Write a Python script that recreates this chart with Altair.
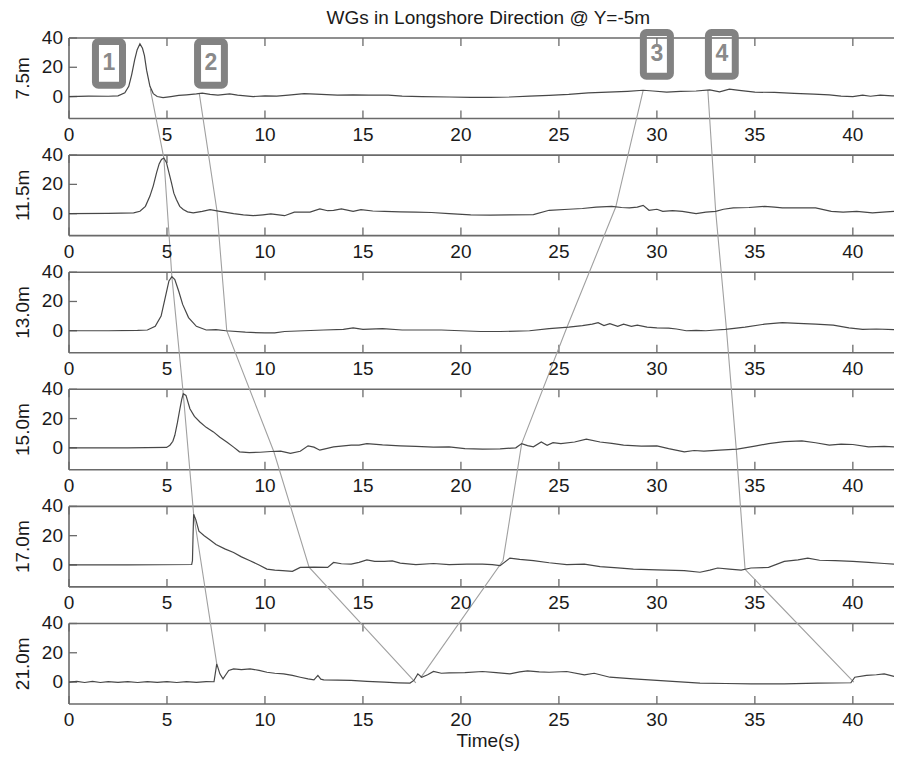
import altair as alt
import pandas as pd

# ---------------- data ----------------
PANEL_NAMES = ["7.5m", "11.5m", "13.0m", "15.0m", "17.0m", "21.0m"]
TITLE = "WGs in Longshore Direction @ Y=-5m"
XLABEL = "Time(s)"
X_TICKS = [0, 5, 10, 15, 20, 25, 30, 35, 40]
Y_TICKS = [0, 20, 40]

T1 = [0, 1, 2, 2.5, 2.85, 3.05, 3.2, 3.35, 3.48, 3.62, 3.75, 3.85, 3.96, 4.13, 4.3, 4.5, 4.8, 5.2, 5.6, 6.0,
      6.5, 6.8, 7.2, 7.6, 8.2, 8.6, 9.4, 10, 10.6, 11.2, 12, 12.6, 13.7, 14.5, 15.3, 16.3, 17, 18, 19.4, 20.5,
      21.5, 22.5, 23.5, 24.5, 25.5, 26.5, 27.5, 28.5, 29.3, 29.8, 30.5, 31.2, 32, 32.7, 33.2, 33.7, 34.2, 35, 36, 37,
      38, 38.8, 39.4, 40, 40.5, 40.9, 41.4, 42, 42.1]
V1 = [0, 0.3, 0.2, 0.5, 2.5, 7, 15, 25, 32, 36, 33, 28, 18, 7, 2, 0, -0.7, 0, 0.8, 1.2,
      1.8, 2.3, 1.5, 1.0, 1.8, 1.0, 0, 0.5, 0.3, 1.0, 2, 1.6, 1.0, 1.2, 1.0, 1.0, 0.3, 0, -0.3, -0.5,
      -0.5, -0.3, 0.3, 0.8, 1.5, 2.5, 3, 3.6, 4.3, 3.8, 3, 3.5, 3.8, 4.5, 3.2, 5, 4.2, 3, 2.8, 2.2,
      1.6, 1.2, 0.3, 0, 1, 0.2, 1, 0.5, 0.5]

T2 = [0, 2, 3.3, 3.62, 3.9, 4.13, 4.3, 4.47, 4.6, 4.72, 4.84, 4.97, 5.1, 5.23, 5.35, 5.48, 5.65, 5.83, 6.05, 6.34,
      6.8, 7.2, 7.7, 8.4, 8.9, 9.4, 9.9, 10.3, 10.7, 11, 11.5, 12.3, 12.8, 13.2, 13.5, 13.9, 14.5, 14.9, 15.5, 16.1,
      16.9, 17.7, 18.5, 19.4, 20.5, 21.5, 22.5, 23.7, 24.5, 25.5, 26.2, 26.9, 27.7, 28.2, 28.6, 29, 29.3, 29.6, 30, 30.3,
      30.8, 31.3, 32, 32.5, 33, 33.4, 33.9, 34.7, 35.5, 36, 36.4, 37.2, 38.1, 38.9, 39.5, 40.2, 41, 41.7, 42.1]
V2 = [0, 0.2, 0.5, 1.6, 5, 12, 19, 28, 34, 37, 38, 35, 28, 21, 14, 9.7, 5, 2.8, 1.2, 0.5,
      1.5, 2.8, 1.6, 0, -0.8, -1.4, -0.8, -0.2, -0.8, -1.4, 1, 1, 3.2, 2.0, 2.3, 3.2, 1.6, 2.8, 1.8, 1.6,
      1.2, 1.0, 0.8, 0, -0.8, -1, -0.8, -0.7, 2.3, 3, 3.5, 4.4, 5, 4.2, 3.9, 4.5, 5.7, 2.3, 3, 1.6,
      2, 1.6, 0, 1, 1.6, 3, 3.9, 4.2, 5, 4.5, 3.9, 4, 3.9, 1.6, 1.0, 1.5, 0.5, 1.2, 1.6]

T3 = [0, 2, 3.5, 4.0, 4.4, 4.7, 4.95, 5.1, 5.25, 5.4, 5.6, 5.8, 6.1, 6.5, 7.0, 7.5, 8.0, 9, 10, 10.5,
      11, 12, 13, 14, 14.5, 15, 16, 17, 18, 19, 20, 21, 22, 23.5, 24.5, 25.5, 26.2, 26.7, 27, 27.3,
      27.6, 28, 28.3, 28.7, 29, 29.5, 30, 30.6, 31, 31.5, 32, 32.5, 33, 33.5, 34.5, 35.5, 36.4, 37.2, 38.1, 39,
      39.8, 40.5, 41.2, 42.1]
V3 = [0, 0, 0.2, 0.5, 3, 10, 25, 34, 37, 35, 27, 18, 9, 3, 0.5, 0.8, 0, -1, -1.5, -1.5,
      -0.5, 0, 0.5, 1, 2, 1, 1.5, 0.5, 0.5, 0.5, 0, -0.5, -0.5, 0, 1.5, 2.5, 3.5, 4.5, 5.5, 3.5,
      4.8, 3, 4.5, 3, 3.8, 2.5, 2, 1.8, 1.2, 0, 0.2, 0, 0.5, 1, 2.5, 4.5, 5.5, 5, 4.5, 3.8,
      2, 1, 1.2, 0.8]

T4 = [0, 3, 4.98, 5.15, 5.3, 5.4, 5.53, 5.66, 5.75, 5.83, 5.97, 6.17, 6.4, 6.68, 7.0, 7.37, 7.7, 8.05, 8.4, 8.7,
      9.2, 9.75, 10.3, 10.8, 11.3, 11.8, 12.2, 12.5, 12.8, 13.5, 14.4, 14.8, 15.2, 16.0, 16.9, 17.7, 18.6, 19.4, 20.2, 21.1,
      22.0, 22.8, 23.1, 23.4, 23.7, 24.1, 24.4, 24.7, 25.1, 25.8, 26.4, 27.1, 27.7, 28.3, 29.2, 30.0, 30.6, 31.4, 31.9, 32.4,
      33.2, 34.1, 35.0, 35.7, 36.5, 37.4, 38.1, 38.8, 39.4, 40.0, 40.8, 41.6, 42.1]
V4 = [0, 0, 0.3, 1.8, 4.5, 8.6, 17, 26.7, 33, 37, 35.8, 26.7, 21.5, 17.7, 14, 10.9, 7.2, 4, 0.5, -2.7,
      -3.2, -3.0, -2.5, -2.3, -3.8, -2.3, 1.4, 0.5, -1.6, 0.7, 1.8, 1.8, 2.9, 2.0, 1.4, 1.0, 0.5, 0.7, -0.5, -0.9,
      -0.7, 0, 2.9, 1.5, 0.7, 4, 1.8, 3.5, 2.9, 4, 5.9, 4, 3, 1.8, 1.2, 1.4, -0.5, -2.7, -1.8, -2.3,
      -1.5, -0.9, 1.2, 2.9, 4.2, 4.8, 3.5, 1.8, 2.5, 2.3, 0.7, 1.0, 0.7]

T5 = [0, 3, 6.26, 6.3, 6.33, 6.36, 6.47, 6.63, 6.9, 7.2, 7.5, 7.95, 8.4, 8.8, 9.24, 9.7, 10.1, 10.5, 10.9, 11.4,
      11.8, 12.5, 13.2, 13.5, 13.9, 14.4, 14.8, 15.2, 15.6, 16.1, 16.5, 16.9, 17.7, 18.6, 19.4, 20.3, 21.1, 21.6, 22.0, 22.5,
      23.0, 23.7, 24.5, 25.4, 26.3, 27.1, 28.0, 28.8, 30.0, 31.4, 32.2, 32.7, 33.1, 33.7, 34.3, 34.8, 35.7, 36.5, 37.2, 37.7,
      38.3, 39.1, 40.0, 40.8, 41.6, 42.1]
V5 = [0, 0, 0.3, 2.9, 20, 34.6, 31, 23, 20, 17, 14, 11, 8.5, 5.5, 2.9, 0, -2.8, -3.5, -3.9, -4.4,
      -1.7, -1.5, -1.7, 1.7, 0.8, 0.6, 1.8, 3.5, 2.5, 2.4, 2.8, 1.3, 0.2, 1, 0.2, 0.5, 0.6, 0.2, -0.5, 4.7,
      3.8, 2.9, 1.5, 0.2, 0.5, -1.2, -2, -2.8, -3.4, -3.9, -5, -3.5, -2.1, -2.8, -3.5, -2.1, -1.7, 2.4, 3.5, 4.7,
      3.2, 2.9, 2.5, 1.7, 1.0, 0.6]

T6 = [0, 0.4, 0.8, 1.2, 1.6, 2.0, 2.5, 3.0, 3.5, 4.0, 4.5, 5.0, 5.5, 6.0, 6.5, 7.0, 7.4, 7.54, 7.7, 7.86,
      8.0, 8.15, 8.4, 8.8, 9.24, 9.7, 10.1, 10.5, 10.95, 11.4, 11.8, 12.2, 12.5, 12.7, 12.85, 13.0, 13.7, 14.4, 15.2, 16.1,
      16.8, 17.4, 17.6, 17.8, 18.0, 18.3, 18.6, 19.0, 19.4, 20.2, 21.1, 21.8, 22.5, 23.0, 23.4, 24.0, 24.5, 25.4, 26.3, 26.8,
      27.6, 28.8, 30.0, 31.4, 32.2, 33.5, 34.8, 36.5, 38.2, 39.9, 40.1, 40.7, 41.2, 41.6, 42.1]
V6 = [0, 0.4, -0.3, 0.4, -0.3, 0.3, -0.2, 0.3, -0.3, 0.3, -0.2, 0.3, -0.3, 0.3, -0.2, 0.3, 0.2, 12.4, 5.6, 2.2,
      5, 7.9, 9, 8.5, 9, 8, 6.7, 6, 5.6, 4.5, 3.3, 2.2, 1.5, 4.5, 2, 1.5, 1.3, 1.1, 0.5, -0.1,
      -0.5, -0.7, 1.1, 5.6, 3.3, 5, 7.2, 6, 6.3, 6.5, 7.2, 6.5, 5.6, 7, 7.6, 7.0, 6.7, 7.2, 4.9, 6,
      3.3, 2.2, 1.1, -0.1, -0.7, -1.0, -1.2, -1.2, -0.7, -0.5, 3.3, 4.5, 5, 5.6, 3.8]

SERIES_T = [T1, T2, T3, T4, T5, T6]
SERIES_V = [V1, V2, V3, V4, V5, V6]

# connector lines: one (time, value) pair per panel, top to bottom
LINK1_T = [4.15, 4.84, 5.25, 5.83, 6.36, 7.54]
LINK1_V = [5, 38, 37, 37, 34.6, 12.4]
LINK2_T = [6.65, 7.55, 8.05, 10.45, 12.25, 17.7]
LINK2_V = [2, 2, 0, -2.5, -1.5, -0.5]
LINK3_T = [29.3, 27.9, 25.4, 23.1, 22.15, 17.95]
LINK3_V = [4.3, 4.5, 2, 2.9, 3, 3]
LINK4_T = [32.6, 33.0, 33.55, 34.05, 34.5, 40.05]
LINK4_V = [4.5, 1.6, 1, -0.9, -3, 0]
LINKS = [(LINK1_T, LINK1_V), (LINK2_T, LINK2_V), (LINK3_T, LINK3_V), (LINK4_T, LINK4_V)]

# numbered boxes: label, x0, x1, y0, y1 (in the top panel's units)
BOX_LABELS = ["1", "2", "3", "4"]
BOX_X0 = [1.35, 6.56, 29.31, 32.63]
BOX_X1 = [2.73, 7.93, 30.69, 34.0]
BOX_Y0 = [7.75, 7.75, 13.9, 13.9]
BOX_Y1 = [37.6, 37.6, 43.7, 43.7]

# ---------------- layout constants ----------------
YMIN, YMAX = -15, 40
PITCH = 80              # data units between panel baselines
NP = len(PANEL_NAMES)
XMAX = 42.1
W, H = 825, 666
PX_X = W / XMAX
PX_Y = H / (YMAX - (YMIN - PITCH * (NP - 1)))
TICK_Y = 8 / PX_Y
TICK_X = 8 / PX_X
FONT = "Liberation Sans"
FS = 19
TEXT_COLOR = "#1a1a1a"

x_scale = alt.Scale(domain=[0, XMAX], nice=False, zero=False)
y_scale = alt.Scale(domain=[YMIN - PITCH * (NP - 1), YMAX], nice=False, zero=False)
X = lambda f="t": alt.X(f"{f}:Q", scale=x_scale, axis=None)
Y = lambda f="yy": alt.Y(f"{f}:Q", scale=y_scale, axis=None)

# series
rows = []
for k, (ts, vs) in enumerate(zip(SERIES_T, SERIES_V)):
    for t, v in zip(ts, vs):
        rows.append({"panel": k, "t": t, "yy": v - PITCH * k})
series_df = pd.DataFrame(rows)

link_rows = []
for li, (ts, vs) in enumerate(LINKS):
    for k, (t, v) in enumerate(zip(ts, vs)):
        link_rows.append({"link": li, "seq": k, "t": t, "yy": v - PITCH * k})
link_df = pd.DataFrame(link_rows)

# frames, ticks and labels of every panel
frame_rows, xtick_rows, ytick_rows, xlab_rows, ylab_rows, name_rows = [], [], [], [], [], []
for k in range(NP):
    top = YMAX - PITCH * k
    bot = YMIN - PITCH * k
    frame_rows += [
        {"t": 0, "t2": XMAX, "yy": top, "yy2": top},
        {"t": 0, "t2": XMAX, "yy": bot, "yy2": bot},
        {"t": 0, "t2": 0, "yy": bot, "yy2": top},
    ]
    for xt in X_TICKS:
        xtick_rows.append({"t": xt, "yy": bot, "yy2": bot + TICK_Y})
        xtick_rows.append({"t": xt, "yy": top, "yy2": top - TICK_Y})
        xlab_rows.append({"t": xt, "yy": bot - 22 / PX_Y, "label": str(xt)})
    for yt in Y_TICKS:
        ytick_rows.append({"t": 0, "t2": TICK_X, "yy": yt - PITCH * k})
        ylab_rows.append({"t": 0, "yy": yt - PITCH * k, "label": str(yt)})
    name_rows.append({"t": -46 / PX_X, "yy": (top + bot) / 2, "label": PANEL_NAMES[k]})

frame_df = pd.DataFrame(frame_rows)
xtick_df = pd.DataFrame(xtick_rows)
ytick_df = pd.DataFrame(ytick_rows)
xlab_df = pd.DataFrame(xlab_rows)
ylab_df = pd.DataFrame(ylab_rows)
name_df = pd.DataFrame(name_rows)

box_df = pd.DataFrame({"label": BOX_LABELS, "t": BOX_X0, "t2": BOX_X1, "yy": BOX_Y0, "yy2": BOX_Y1})
box_df["tc"] = (box_df["t"] + box_df["t2"]) / 2
box_df["yc"] = (box_df["yy"] + box_df["yy2"]) / 2

title_df = pd.DataFrame({"t": [XMAX / 2 + 0.35], "yy": [YMAX + 14 / PX_Y], "label": [TITLE]})
xtitle_df = pd.DataFrame({"t": [XMAX / 2 + 0.35], "yy": [YMIN - PITCH * (NP - 1) - 43 / PX_Y], "label": [XLABEL]})

FRAME_COLOR = "#6a6a6a"

frames = alt.Chart(frame_df).mark_rule(color=FRAME_COLOR, strokeWidth=1.6).encode(
    x=X(), x2="t2:Q", y=Y(), y2="yy2:Q")
xticks = alt.Chart(xtick_df).mark_rule(color=FRAME_COLOR, strokeWidth=1.3).encode(
    x=X(), y=Y(), y2="yy2:Q")
yticks = alt.Chart(ytick_df).mark_rule(color=FRAME_COLOR, strokeWidth=1.3).encode(
    x=X(), x2="t2:Q", y=Y())
xlabels = alt.Chart(xlab_df).mark_text(font=FONT, fontSize=FS, color=TEXT_COLOR, align="center",
                                       baseline="alphabetic").encode(x=X(), y=Y(), text="label:N")
ylabels = alt.Chart(ylab_df).mark_text(font=FONT, fontSize=FS, color=TEXT_COLOR, align="right",
                                       baseline="middle", dx=-6).encode(x=X(), y=Y(), text="label:N")
names = alt.Chart(name_df).mark_text(font=FONT, fontSize=FS, color=TEXT_COLOR, align="center",
                                     baseline="middle", angle=270).encode(x=X(), y=Y(), text="label:N")
series = alt.Chart(series_df).mark_line(color="#474747", strokeWidth=1.2).encode(
    x=X(), y=Y(), detail="panel:N")
links = alt.Chart(link_df).mark_line(color="#a0a0a0", strokeWidth=1.1).encode(
    x=X(), y=Y(), detail="link:N", order="seq:Q")
boxes = alt.Chart(box_df).mark_rect(fillOpacity=0, stroke="#828282", strokeWidth=7, cornerRadius=3).encode(
    x=X(), x2="t2:Q", y=Y(), y2="yy2:Q")
box_text = alt.Chart(box_df).mark_text(font=FONT, fontSize=23, fontWeight="bold", color="#8a8a8a",
                                       align="center", baseline="middle").encode(
    x=X("tc"), y=Y("yc"), text="label:N")
title = alt.Chart(title_df).mark_text(font=FONT, fontSize=FS, color=TEXT_COLOR, align="center",
                                      baseline="alphabetic").encode(x=X(), y=Y(), text="label:N")
xtitle = alt.Chart(xtitle_df).mark_text(font=FONT, fontSize=FS, color=TEXT_COLOR, align="center",
                                        baseline="alphabetic").encode(x=X(), y=Y(), text="label:N")

chart = alt.layer(
    frames, xticks, yticks, links, series, boxes, box_text,
    xlabels, ylabels, names, title, xtitle
).properties(
    width=W, height=H,
    autosize=alt.AutoSizeParams(type="none"),
    padding={"left": 61, "top": 30, "right": 0, "bottom": 48},
    background="white",
).configure_view(strokeWidth=0)

chart.save("out.html", embed_options={"renderer": "svg", "actions": False})
